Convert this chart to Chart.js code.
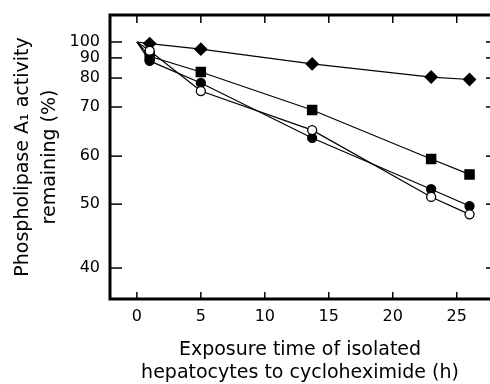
<!DOCTYPE html>
<html>
<head>
<meta charset="utf-8">
<script src="https://cdn.jsdelivr.net/npm/chart.js@4/dist/chart.umd.min.js"></script>
<style>
  html, body { margin: 0; padding: 0; background: #fff; }
  #wrap { width: 490px; height: 384px; }
</style>
</head>
<body>
<div id="wrap"><canvas id="chart" width="490" height="384"></canvas></div>
<script>
// exposure time (h)
const hours = [0, 1, 5, 13.7, 23, 26];
// phospholipase A1 activity remaining (%), one list per marker
const diamonds = [100, 99, 95.5, 87, 80.5, 79.5];
const squares = [100, 91, 83, 69.4, 59.4, 56.2];
const dots = [100, 88.5, 78.3, 63.7, 53.1, 49.7];
const rings = [100, 94.5, 75.5, 65.3, 51.5, 48.4];

const xTicks = [0, 5, 10, 15, 20, 25];
const yTicks = [100, 90, 80, 70, 60, 50, 40];

// the printed y axis is not evenly spaced, so map value -> share of axis height (from top)
const gaugeValues = [117, 100, 90, 80, 70, 60, 50, 40, 35];
const gaugeShares = [0, 0.095, 0.151, 0.222, 0.324, 0.497, 0.666, 0.891, 1];

const share = v => {
  for (let i = 1; i < gaugeValues.length; i++) {
    if (v >= gaugeValues[i] || i === gaugeValues.length - 1) {
      const a = gaugeValues[i - 1], b = gaugeValues[i];
      return gaugeShares[i - 1] + (a - v) / (a - b) * (gaugeShares[i] - gaugeShares[i - 1]);
    }
  }
};

class GaugeScale extends Chart.LinearScale {
  getPixelForValue(value) {
    if (value === null || value === undefined) return NaN;
    return this.top + share(value) * (this.bottom - this.top);
  }
  getValueForPixel(pixel) {
    const s = (pixel - this.top) / (this.bottom - this.top);
    for (let i = 1; i < gaugeShares.length; i++) {
      if (s <= gaugeShares[i] || i === gaugeShares.length - 1) {
        const t = (s - gaugeShares[i - 1]) / (gaugeShares[i] - gaugeShares[i - 1]);
        return gaugeValues[i - 1] + t * (gaugeValues[i] - gaugeValues[i - 1]);
      }
    }
  }
}
GaugeScale.id = 'gauge';
GaugeScale.defaults = Chart.LinearScale.defaults;
Chart.register(GaugeScale);

const tickFont = { family: "'DejaVu Sans', sans-serif", size: 16 };
const titleFamily = "'DejaVu Sans', sans-serif";

const series = (data, style, fill, r) => ({
  data: hours.map((h, i) => ({ x: h, y: data[i] })),
  borderColor: '#000',
  borderWidth: 1.2,
  pointStyle: style,
  pointRadius: hours.map(h => (h === 0 ? 0 : r)),
  pointBackgroundColor: fill,
  pointBorderColor: '#000',
  pointBorderWidth: 1.3,
  tension: 0,
  clip: false
});

// frame (left, top, bottom), inward ticks, and the little marks on the right edge
const framePlugin = {
  id: 'frame',
  afterDraw(chart) {
    const { ctx, chartArea: a, scales: { x, y } } = chart;
    const line = (x1, y1, x2, y2) => { ctx.beginPath(); ctx.moveTo(x1, y1); ctx.lineTo(x2, y2); ctx.stroke(); };
    ctx.save();
    ctx.strokeStyle = '#000';
    ctx.lineWidth = 3;
    ctx.beginPath();
    ctx.moveTo(a.right, a.top);
    ctx.lineTo(a.left, a.top);
    ctx.lineTo(a.left, a.bottom);
    ctx.lineTo(a.right, a.bottom);
    ctx.stroke();
    ctx.lineWidth = 1.5;
    x.ticks.forEach(t => {
      const px = x.getPixelForValue(t.value);
      line(px, a.bottom, px, a.bottom - 7);
      line(px, a.top, px, a.top + 8);
    });
    y.ticks.forEach(t => {
      const py = y.getPixelForValue(t.value);
      line(a.left, py, a.left + 12, py);
      line(a.right - 4, py, a.right, py);
    });
    ctx.restore();
  }
};

new Chart(document.getElementById('chart'), {
  type: 'line',
  data: {
    datasets: [
      series(rings, 'circle', '#fff', 4.5),
      series(dots, 'circle', '#000', 4.5),
      series(squares, 'rect', '#000', 6.5),
      series(diamonds, 'rectRot', '#000', 6)
    ]
  },
  options: {
    responsive: false,
    animation: false,
    devicePixelRatio: 1,
    layout: { autoPadding: false, padding: { top: 15, right: 0, bottom: 0, left: 0 } },
    plugins: { legend: { display: false }, tooltip: { enabled: false } },
    scales: {
      x: {
        type: 'linear',
        min: -2.1,
        max: 27.6,
        afterBuildTicks: s => { s.ticks = xTicks.map(v => ({ value: v })); },
        afterFit: s => { s.height = 85; s.paddingLeft = 0; s.paddingRight = 0; },
        grid: { display: false, drawTicks: false },
        border: { display: false },
        ticks: { color: '#000', font: tickFont, padding: 8, maxRotation: 0, autoSkip: false },
        title: {
          display: true,
          text: ['Exposure time of isolated', 'hepatocytes to cycloheximide (h)'],
          color: '#000',
          font: { family: titleFamily, size: 19, lineHeight: 1.2 },
          padding: { top: 0, bottom: 0 }
        }
      },
      y: {
        type: 'gauge',
        min: 35,
        max: 117,
        afterBuildTicks: s => { s.ticks = yTicks.map(v => ({ value: v })); },
        afterFit: s => { s.width = 110; s.paddingTop = 0; s.paddingBottom = 0; },
        grid: { display: false, drawTicks: false },
        border: { display: false },
        ticks: { color: '#000', font: tickFont, padding: 10, autoSkip: false, callback: v => String(v) },
        title: {
          display: true,
          text: ['Phospholipase A\u2081 activity', 'remaining (%)'],
          color: '#000',
          font: { family: titleFamily, size: 19, lineHeight: 1.42 },
          padding: { top: 10, bottom: 0 }
        }
      }
    }
  },
  plugins: [framePlugin]
});
</script>
</body>
</html>
